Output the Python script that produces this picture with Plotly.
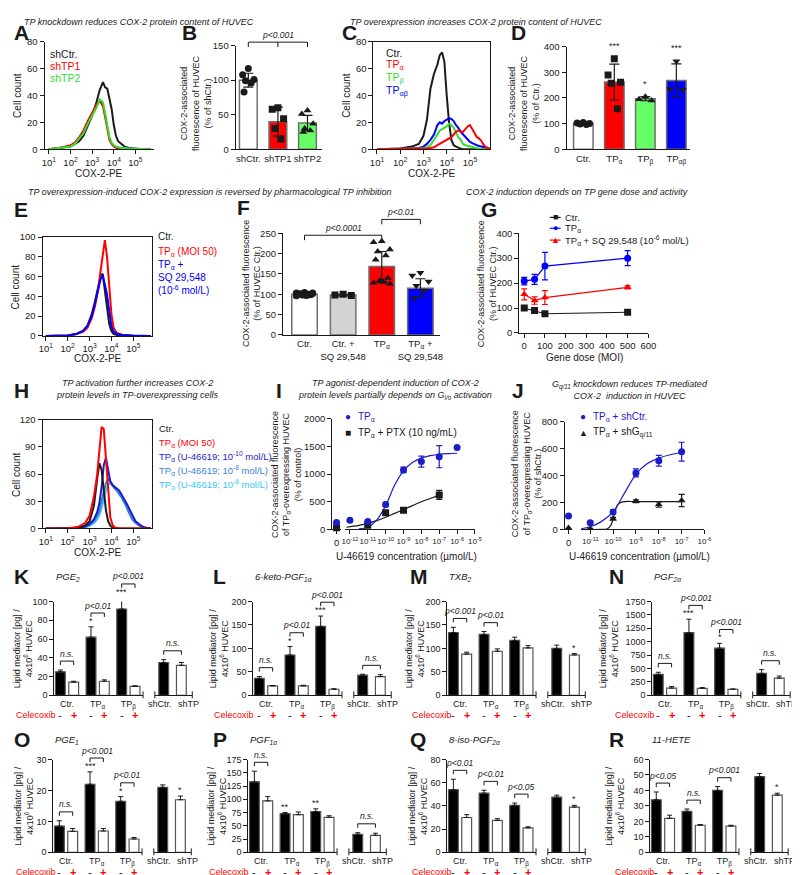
import plotly.graph_objects as go

W, H = 800, 875
FONT = "Liberation Sans"
INK = "#1a1a1a"
RED = "#ff0000"
GREEN = "#33dd33"
LGREEN = "#66ff66"
BLUE = "#0000ff"
NAVY = "#1c1cc8"
STEEL = "#3a7fe0"
CYAN = "#35c8ff"
LGRAY = "#d3d3d3"
EDGE = "#707070"

DECADES = ["10<sup>%d</sup>" % k for k in range(1, 6)]

# ---------------- A: knockdown histograms (log10 COX-2-PE, cell count)
a_log = [1.0, 1.5, 2.0, 2.2, 2.4, 2.6, 2.8, 3.0, 3.2, 3.35, 3.5, 3.6, 3.7, 3.8, 3.9, 4.0, 4.1, 4.2, 4.35, 4.5, 4.7, 5.0, 5.3, 5.7]
a_shctr = [0, 1, 2, 4, 6, 10, 17, 25, 35, 44, 50, 46, 45, 38, 30, 18, 10, 6, 4, 2, 1, 0.5, 0, 0]
a_shtp1 = [0, 1, 3, 5, 9, 14, 21, 27, 33, 36, 32, 24, 14, 7, 4, 2, 1, 0.5, 0, 0, 0, 0, 0, 0]
a_shtp2 = [0, 1, 2, 4, 8, 12, 19, 25, 31, 37, 35, 27, 17, 9, 5, 3, 2, 1.5, 1, 1, 0.5, 0.4, 0.2, 0]

# ---------------- B
b_groups = ["shCtr.", "shTP1", "shTP2"]
b_mean = [100, 40, 38]
b_sd = [10, 21, 11]
b_points = [[117, 108, 101, 99, 96, 83], [60, 58, 44, 30, 15], [56, 51, 37, 30, 27, 25]]
b_bracket = 155

# ---------------- C: overexpression histograms
c_log = [1.0, 2.0, 2.5, 2.8, 3.0, 3.15, 3.3, 3.45, 3.6, 3.7, 3.8, 3.9, 4.0, 4.1, 4.2, 4.3,
         4.4, 4.5, 4.6, 4.7, 4.8, 4.9, 5.0, 5.1, 5.2, 5.3, 5.4, 5.5, 5.6, 5.7, 5.85]
c_ctr = [0, 0.5, 2, 4, 10, 22, 45, 56, 63, 70, 72, 65, 40, 20, 7, 3,
         2, 1, 0.5, 0, 0, 0, 0, 0, 0, 0, 0, 0, 0, 0, 0]
c_tpab = [0, 0, 0.5, 1, 2, 4, 7, 11, 18, 20, 19, 21, 22, 23, 22.5, 21,
          18, 16, 13, 11, 9, 7, 5.5, 4.5, 3.5, 3, 2.5, 2, 1.5, 1, 0.5]
c_tpb = [0, 0, 0, 0.5, 1, 1.5, 3, 7, 12, 14, 15, 16, 17, 19, 18, 16,
         12, 9, 7, 4, 3, 2.5, 2, 1.5, 1, 0.7, 0.5, 0.3, 0, 0, 0]
c_tpa = [0, 0, 0, 0, 0.5, 0.5, 1, 1.5, 3, 4, 5, 6, 7, 8, 9, 11,
         13, 14, 13, 13, 15, 17, 18, 15, 11, 9, 8, 6, 3, 1.5, 0.5]

# ---------------- D
d_groups = ["Ctr.", "TP<sub>α</sub>", "TP<sub>β</sub>", "TP<sub>αβ</sub>"]
d_mean = [100, 262, 197, 268]
d_sd = [4, 70, 8, 65]
d_points = [[104, 102, 100, 98, 97], [353, 289, 261, 257, 158], [205, 195, 190], [343, 234, 232]]
d_stars = ["", "***", "*", "***"]

# ---------------- E
e_log = [1.0, 2.0, 2.4, 2.7, 2.9, 3.1, 3.25, 3.4, 3.5, 3.6, 3.7, 3.8, 3.9, 4.0, 4.1, 4.25, 4.5, 5.0, 5.8]
e_ctr = [0, 0.5, 2, 5, 10, 22, 35, 50, 60, 63, 45, 25, 12, 5, 2, 1, 0.5, 0, 0]
e_tpa = [0, 0.5, 2, 4, 8, 18, 30, 48, 65, 82, 97, 80, 50, 22, 8, 3, 1, 0, 0]
e_tpa_sq = [0, 0.5, 2, 5, 10, 20, 33, 48, 57, 62, 52, 42, 25, 10, 4, 2, 1, 0.3, 0]

# ---------------- F
f_groups = ["Ctr.", "Ctr. +<br>SQ 29,548", "TP<sub>α</sub>", "TP<sub>α</sub> +<br>SQ 29,548"]
f_mean = [100, 98, 168, 115]
f_sd = [3, 2, 37, 23]
f_points = [[104, 103, 102, 101, 100, 100, 99, 98, 97, 96, 103, 99], [100, 98, 97],
            [230, 228, 210, 205, 195, 185, 140, 133, 130, 128, 126, 131], [153, 146, 131, 121, 109, 90]]
f_brackets = [("p&lt;0.0001", 0, 2, 245), ("p&lt;0.01", 2, 3, 284)]

# ---------------- G
g_moi = [0, 50, 100, 500]
g_ctr = [100, 90, 77, 83]
g_ctr_sd = [4, 3, 3, 3]
g_tpa = [208, 215, 268, 300]
g_tpa_sd = [15, 20, 55, 30]
g_tpa_sq = [155, 130, 142, 183]
g_tpa_sq_sd = [22, 15, 28, 6]

# ---------------- H
h_log = [1.0, 2.0, 2.5, 2.8, 3.0, 3.2, 3.35, 3.45, 3.55, 3.65, 3.75, 3.85, 3.95, 4.05,
         4.15, 4.25, 4.35, 4.45, 4.55, 4.65, 4.75, 4.85, 4.95, 5.1, 5.3, 5.5, 5.8]
h_ctr = [0, 0, 1, 3, 8, 25, 55, 72, 65, 45, 20, 8, 3, 1, 0.5, 0, 0, 0, 0, 0, 0, 0, 0, 0, 0, 0, 0]
h_tpa = [0, 0, 2, 6, 14, 35, 60, 85, 112, 110, 80, 40, 12, 4, 1, 0.5, 0, 0, 0, 0, 0, 0, 0, 0, 0, 0, 0]
h_u10 = [0, 0, 0.5, 2, 5, 10, 18, 28, 45, 70, 78, 65, 52, 48, 46, 45, 42, 38, 34, 30, 25, 20, 15, 8, 4, 1, 0]
h_u8 = [0, 0, 0.5, 2, 4, 8, 14, 20, 30, 40, 50, 55, 52, 48, 44, 42, 38, 35, 30, 26, 20, 15, 10, 6, 3, 1, 0]
h_u6 = [0, 0, 0.5, 1, 3, 6, 10, 15, 22, 32, 42, 48, 50, 47, 45, 43, 40, 37, 33, 28, 22, 17, 12, 7, 3, 1, 0]

# ---------------- I (log10 U-46619 concentration)
i_conc = [-12, -11, -10, -9, -8, -7, -6]
i_tpa_zero = 125
i_tpa = [166, 143, 452, 1077, 1227, 1316, 1480]
i_tpa_sd = [0, 0, 40, 50, 100, 200, 0]
i_ptx_zero = 30
i_ptx_conc = [-11, -10, -9, -7]
i_ptx = [75, 300, 345, 625]
i_ptx_sd = [0, 0, 0, 80]
i_fit_tpa_x = [-11.5, -11, -10.5, -10, -9.5, -9, -8.5, -8, -7.5, -7, -6.5, -6]
i_fit_tpa_y = [10, 40, 170, 430, 800, 1060, 1210, 1290, 1335, 1360, 1372, 1378]
i_fit_ptx_x = [-12.2, -11.5, -11, -10.5, -10, -9.5, -9, -8.5, -8, -7.5, -7]
i_fit_ptx_y = [40, 75, 110, 160, 220, 290, 360, 430, 500, 560, 620]

# ---------------- J
j_conc = [-11, -10, -9, -8, -7]
j_shctr_zero = 100
j_shctr = [50, 130, 420, 510, 578]
j_shctr_sd = [10, 15, 30, 40, 70]
j_shgq_zero = 10
j_shgq = [3, 80, 210, 185, 215]
j_shgq_sd = [5, 10, 10, 20, 45]
j_fit_ctr_x = [-11.4, -11, -10.5, -10, -9.5, -9, -8.5, -8, -7.5, -7]
j_fit_ctr_y = [5, 20, 60, 130, 270, 410, 490, 530, 555, 570]
j_fit_gq_x = [-11.4, -10.5, -10.25, -10.1, -10.0, -9.9, -9.8, -9.6, -9, -8, -7]
j_fit_gq_y = [0, 0, 5, 30, 80, 140, 185, 205, 207, 207, 207]

# ---------------- K-R lipid mediators: Ctr-, Ctr+, TPa-, TPa+, TPb-, TPb+ ; shCtr, shTP
k_mean = [25, 14, 62, 15, 92, 9.5]
k_sd = [2, 1, 11, 1.5, 12, 0.7]
k_sh = [35, 32]
k_sh_sd = [3, 3]
l_mean = [36, 20, 86, 20, 147, 13]
l_sd = [4, 1, 18, 1.5, 22, 1]
l_sh = [43, 40]
l_sh_sd = [2, 4]
m_mean = [134, 88, 130, 94, 117, 101]
m_sd = [11, 4, 6, 5, 7, 5]
m_sh = [100, 86]
m_sh_sd = [7, 3]
n_mean = [390, 135, 1170, 130, 880, 110]
n_sd = [40, 30, 250, 15, 90, 10]
n_sh = [410, 320]
n_sh_sd = [70, 40]
o_mean = [8.5, 6.8, 22, 6.9, 16.5, 4.3]
o_sd = [1.7, 0.9, 4, 0.8, 1.5, 0.5]
o_sh = [21, 17]
o_sh_sd = [0.8, 1.2]
p_mean = [133, 97, 73, 71, 77, 66]
p_sd = [20, 8, 2, 5, 5, 3]
p_sh = [34, 32]
p_sh_sd = [3, 4]
q_mean = [54, 30, 51, 27.5, 40.5, 21]
q_sd = [9, 2.5, 2.5, 1.5, 2, 1]
q_sh = [47.5, 39]
q_sh_sd = [1.8, 1.5]
r_mean = [34, 22, 26.5, 17.5, 40, 17]
r_sd = [5, 2, 1.5, 0.5, 2.5, 0.5]
r_sh = [49, 37]
r_sh_sd = [2, 1.2]

fig = go.Figure()
annots = []
shapes = []
axis_no = [0]


def xp(p):
    return p / W


def yp(p):
    return 1 - p / H


def add_axes(left, right, top, bottom, xrange, yrange, xopt=None, yopt=None, tick_size=9.5):
    axis_no[0] += 1
    s = "" if axis_no[0] == 1 else str(axis_no[0])
    base = dict(showgrid=False, zeroline=False, showline=True, linecolor=INK, linewidth=1,
                ticks="", showticklabels=False, ticklen=4, tickcolor=INK, fixedrange=True,
                tickangle=0, tickfont=dict(family=FONT, size=tick_size, color=INK))
    xa = dict(base, domain=[xp(left), xp(right)], range=xrange, anchor="y" + s)
    ya = dict(base, domain=[yp(bottom), yp(top)], range=yrange, anchor="x" + s)
    xa.update(xopt or {})
    ya.update(yopt or {})
    fig.update_layout({"xaxis" + s: xa, "yaxis" + s: ya})
    return "x" + s, "y" + s


def label(x, y, text, size=10, color=INK, xanchor="center", yanchor="middle", angle=0, xref="paper",
          align="center"):
    annots.append(dict(x=xp(x) if xref == "paper" else x, y=yp(y), xref=xref, yref="paper",
                       text=text, showarrow=False, textangle=angle, xanchor=xanchor, yanchor=yanchor,
                       align=align, font=dict(family=FONT, size=size, color=color)))


def hline_px(x0, x1, y, color=INK, width=1):
    shapes.append(dict(type="line", xref="paper", yref="paper", x0=xp(x0), x1=xp(x1), y0=yp(y), y1=yp(y),
                       line=dict(color=color, width=width)))


def vline_px(x, y0, y1):
    shapes.append(dict(type="line", xref="paper", yref="paper", x0=xp(x), x1=xp(x), y0=yp(y0), y1=yp(y1),
                       line=dict(color=INK, width=1)))


def bracket(xref, x0, x1, lvl, text, leg=4, mid=None, size=8.5):
    path = "M%s,%s L%s,%s L%s,%s L%s,%s" % (x0, yp(lvl + leg), x0, yp(lvl), x1, yp(lvl), x1, yp(lvl + leg))
    if mid is not None:
        path += " M%s,%s L%s,%s" % (mid, yp(lvl), mid, yp(lvl + leg))
    shapes.append(dict(type="path", path=path, xref=xref, yref="paper", line=dict(color=INK, width=1)))
    label((x0 + x1) / 2, lvl - 0.5, "<i>%s</i>" % text, size=size, yanchor="bottom", xref=xref)


def spread(n, w):
    pattern = [0, -1, 1, -0.5, 0.5, -0.75, 0.75, -0.25, 0.25, -1, 1, 0]
    return [w * pattern[k % len(pattern)] for k in range(n)]


def hist(box, yr, yticks, xs, series, frame):
    left, right, top, bottom = box
    xa, ya = add_axes(left, right, top, bottom, [0.8 if not frame else 0.85, 5.85], yr,
                      dict(ticks="outside", showticklabels=True, tickvals=[1, 2, 3, 4, 5], ticktext=DECADES,
                           mirror=frame),
                      dict(ticks="outside", showticklabels=True, tickvals=yticks, mirror=frame))
    for ys, col in series:
        fig.add_trace(go.Scatter(x=xs, y=ys, mode="lines", line=dict(color=col, width=2),
                                 xaxis=xa, yaxis=ya))


def dot_bars(box, yr, yticks, groups, means, sds, points, colors, symbols, bw, xr):
    left, right, top, bottom = box
    xa, ya = add_axes(left, right, top, bottom, xr, yr,
                      dict(showticklabels=True, tickvals=list(range(len(groups))), ticktext=groups),
                      dict(ticks="outside", showticklabels=True, tickvals=yticks))
    fig.add_trace(go.Bar(x=list(range(len(groups))), y=means, width=bw,
                         marker=dict(color=colors, line=dict(color=EDGE, width=1.5)),
                         error_y=dict(type="data", array=sds, color=INK, thickness=1.2, width=5),
                         xaxis=xa, yaxis=ya))
    for i, pts in enumerate(points):
        fig.add_trace(go.Scatter(x=[i + o for o in spread(len(pts), bw * 0.32)], y=pts, mode="markers",
                                 marker=dict(symbol=symbols[i], color=INK, size=7),
                                 xaxis=xa, yaxis=ya))
    return xa, ya


# ================= row 1 =================
label(129, 8, "<i>TP knockdown reduces COX-2 protein content of HUVEC</i>", size=9)
label(471, 8, "<i>TP overexpression increases COX-2 protein content of HUVEC</i>", size=9)

# A
label(0, 19, "<b>A</b>", size=21, xanchor="left")
hist((33, 144, 28, 137), [0, 80], [0, 20, 40, 60, 80], a_log,
     [(a_shctr, INK), (a_shtp1, RED), (a_shtp2, GREEN)], False)
label(6, 82, "Cell count", angle=-90)
label(88, 162, "COX-2-PE")
label(37, 41, "shCtr.", size=10.5, xanchor="left")
label(37, 53, "shTP1", size=10.5, color=RED, xanchor="left")
label(37, 65, "shTP2", size=10.5, color=GREEN, xanchor="left")

# B
label(171, 19, "<b>B</b>", size=21, xanchor="left")
xb, yb = dot_bars((227, 315, 32, 137), [0, 150], [0, 50, 100, 150], b_groups, b_mean, b_sd, b_points,
                  ["white", RED, LGREEN], ["circle", "square", "triangle-up"], 0.6, [-0.43, 2.5])
label(187, 90, "COX-2-associated<br>fluorescence of HUVEC<br>(% of shCtr.)", size=9, angle=-90)
b_lvl = 137 - b_bracket / 150 * (137 - 32)
bracket(xb, 0, 2, b_lvl, "p&lt;0.001", leg=5, mid=1)

# C
label(333, 19, "<b>C</b>", size=21, xanchor="left")
hist((367, 485, 28, 137), [0, 80], [0, 20, 40, 60, 80], c_log,
     [(c_ctr, INK), (c_tpab, BLUE), (c_tpb, GREEN), (c_tpa, RED)], True)
label(340, 82, "Cell count", angle=-90)
label(426, 162, "COX-2-PE")
label(378, 39, "Ctr.", size=10.5, xanchor="left")
label(378, 52, "TP<sub>α</sub>", size=10.5, color=RED, xanchor="left")
label(378, 65, "TP<sub>β</sub>", size=10.5, color=GREEN, xanchor="left")
label(378, 78, "TP<sub>αβ</sub>", size=10.5, color=BLUE, xanchor="left")

# D
label(505, 19, "<b>D</b>", size=21, xanchor="left")
xd, yd = dot_bars((563, 688, 33, 137), [0, 400], [0, 100, 200, 300, 400], d_groups, d_mean, d_sd, d_points,
                  ["white", RED, LGREEN, BLUE], ["circle", "square", "triangle-up", "triangle-down"],
                  0.63, [-0.54, 3.43])
label(520, 90, "COX-2-associated<br>fluorescence of HUVEC<br>(% of Ctr.)", size=9, angle=-90)
for i, st in enumerate(d_stars):
    if st:
        top_val = max(d_mean[i] + d_sd[i], max(d_points[i]))
        label(i, 137 - top_val / 400 * 104 - 6, st, size=9, yanchor="bottom", xref=xd)

# ================= row 2 =================
label(201, 180, "<i>TP overexpression-induced COX-2 expression is reversed by pharmacological TP inhibition</i>", size=9)
label(574, 180, "<i>COX-2 induction depends on TP gene dose and activity</i>", size=9)

# E
label(0, 198, "<b>E</b>", size=21, xanchor="left")
hist((31, 142, 226, 326), [0, 100], [0, 20, 40, 60, 80, 100], e_log,
     [(e_ctr, INK), (e_tpa, RED), (e_tpa_sq, BLUE)], True)
label(4, 276, "Cell count", angle=-90)
label(87, 349, "COX-2-PE")
label(146, 225, "Ctr.", size=10, xanchor="left")
label(146, 241, "TP<sub>α</sub> (MOI 50)", size=10, color=RED, xanchor="left")
label(146, 267, "TP<sub>α</sub> +<br>SQ 29,548<br>(10<sup>-6</sup> mol/L)", size=10, color=BLUE, xanchor="left",
      align="left")

# F
label(226, 196, "<b>F</b>", size=21, xanchor="left")
xf, yf = dot_bars((275, 435, 222, 325), [0, 250], [0, 50, 100, 150, 200, 250], f_groups, f_mean, f_sd, f_points,
                  ["white", LGRAY, RED, BLUE], ["circle", "square", "triangle-up", "triangle-down"],
                  0.66, [-0.56, 3.52])
label(243, 273, "COX-2-associated fluorescence<br>(% of HUVEC Ctr.)", size=9, angle=-90)
for txt, i0, i1, lv in f_brackets:
    bracket(xf, i0, i1, 325 - lv / 250 * 103, txt, leg=5)

# G
label(474, 198, "<b>G</b>", size=21, xanchor="left")
xg, yg = add_axes(515, 646, 222, 323, [-24, 600], [0, 400],
                  dict(ticks="outside", showticklabels=True, tickvals=[0, 100, 200, 300, 400, 500, 600]),
                  dict(ticks="outside", showticklabels=True, tickvals=[0, 100, 200, 300, 400]))
for ys, sd, col, sym in ((g_ctr, g_ctr_sd, INK, "square"), (g_tpa_sq, g_tpa_sq_sd, RED, "triangle-up"),
                         (g_tpa, g_tpa_sd, BLUE, "circle")):
    fig.add_trace(go.Scatter(x=g_moi, y=ys, mode="lines+markers", line=dict(color=col, width=1.2),
                             marker=dict(symbol=sym, size=7, color=col),
                             error_y=dict(type="data", array=sd, color=col, thickness=1.2, width=3),
                             xaxis=xg, yaxis=yg))
label(482, 273, "COX-2-associated fluorescence<br>(% of HUVEC Ctr.)", size=9, angle=-90)
label(581, 348, "Gene dose (MOI)")
for yy, glyph, col, txt in ((206, "■", INK, "Ctr."), (217, "●", BLUE, "TP<sub>α</sub>"),
                            (229, "▲", RED, "TP<sub>α</sub> + SQ 29,548 (10<sup>-6</sup> mol/L)")):
    hline_px(546, 557, yy, col, 1.2)
    label(551.5, yy, glyph, size=9, color=col)
    label(559, yy, txt, size=9.5, xanchor="left")

# ================= row 3 =================
# H
label(0, 381, "<b>H</b>", size=21, xanchor="left")
label(127, 380, "<i>TP activation further increases COX-2<br>protein levels in TP-overexpressing cells</i>", size=9)
hist((31, 142, 411, 521), [0, 120], [0, 30, 60, 90, 120], h_log,
     [(h_u6, CYAN), (h_u8, STEEL), (h_u10, NAVY), (h_ctr, INK), (h_tpa, RED)], True)
label(4, 466, "Cell count", angle=-90)
label(87, 545, "COX-2-PE")
for yy, col, txt in ((420, INK, "Ctr."), (434, RED, "TP<sub>α</sub> (MOI 50)"),
                     (448, NAVY, "TP<sub>α</sub> (U-46619; 10<sup>-10</sup> mol/L)"),
                     (462, STEEL, "TP<sub>α</sub> (U-46619; 10<sup>-8</sup> mol/L)"),
                     (476, CYAN, "TP<sub>α</sub> (U-46619; 10<sup>-6</sup> mol/L)")):
    label(147, yy, txt, size=9.5, color=col, xanchor="left")

# I
label(266, 381, "<b>I</b>", size=21, xanchor="left")
label(389, 380, "<i>TP agonist-dependent induction of COX-2<br>protein levels partially depends on G<sub>i/o</sub> activation</i>", size=9)
xi0, yi0 = add_axes(325, 334, 410, 522, [-1, 1], [0, 2000],
                    dict(ticks="outside", showticklabels=True, tickvals=[0], ticktext=["0"]),
                    dict(ticks="outside", showticklabels=True, tickvals=[0, 500, 1000, 1500, 2000]))
xi, yi = add_axes(338, 470, 410, 522, [-12.28, -5], [0, 2000],
                  dict(ticks="outside", showticklabels=True, tickvals=list(range(-12, -4)),
                       ticktext=["10<sup>%d</sup>" % k for k in range(-12, -4)], tickfont=dict(size=8)),
                  dict(showline=False))
fig.add_trace(go.Scatter(x=i_fit_ptx_x, y=i_fit_ptx_y, mode="lines", line=dict(color=INK, width=1.2, shape="spline"),
                         xaxis=xi, yaxis=yi))
fig.add_trace(go.Scatter(x=i_fit_tpa_x, y=i_fit_tpa_y, mode="lines", line=dict(color=NAVY, width=1.2, shape="spline"),
                         xaxis=xi, yaxis=yi))
fig.add_trace(go.Scatter(x=i_ptx_conc, y=i_ptx, mode="markers", marker=dict(symbol="square", size=7, color=INK),
                         error_y=dict(type="data", array=i_ptx_sd, color=INK, thickness=1.2, width=3),
                         xaxis=xi, yaxis=yi))
fig.add_trace(go.Scatter(x=i_conc, y=i_tpa, mode="markers", marker=dict(symbol="circle", size=7, color=NAVY),
                         error_y=dict(type="data", array=i_tpa_sd, color=NAVY, thickness=1.2, width=3),
                         xaxis=xi, yaxis=yi))
fig.add_trace(go.Scatter(x=[0, 0], y=[i_ptx_zero, i_tpa_zero], mode="markers",
                         marker=dict(symbol=["square", "circle"], size=7, color=[INK, NAVY]),
                         xaxis=xi0, yaxis=yi0, cliponaxis=False))
label(278, 466, "COX-2-associated fluorescence<br>of TP<sub>α</sub>-overexpressing HUVEC<br>(% of control)",
      size=9, angle=-90)
label(400, 549, "U-46619 concentration (µmol/L)")
label(341, 408, "●", size=10, color=NAVY)
label(349, 408, "TP<sub>α</sub>", size=10, color=NAVY, xanchor="left")
label(341, 424, "■", size=10, color=INK)
label(349, 424, "TP<sub>α</sub> + PTX (10 ng/mL)", size=10, xanchor="left")

# J
label(506, 381, "<b>J</b>", size=21, xanchor="left")
label(627, 381, "<i>G<sub>q/11</sub> knockdown reduces TP-mediated<br>COX-2  induction in HUVEC</i>", size=9)
xj0, yj0 = add_axes(561, 569, 413, 522, [-1, 1], [0, 800],
                    dict(ticks="outside", showticklabels=True, tickvals=[0], ticktext=["0"]),
                    dict(ticks="outside", showticklabels=True, tickvals=[0, 200, 400, 600, 800]))
xj, yj = add_axes(578, 703, 413, 522, [-11.39, -6], [0, 800],
                  dict(ticks="outside", showticklabels=True, tickvals=list(range(-11, -5)),
                       ticktext=["10<sup>%d</sup>" % k for k in range(-11, -5)], tickfont=dict(size=8)),
                  dict(showline=False))
fig.add_trace(go.Scatter(x=j_fit_gq_x, y=j_fit_gq_y, mode="lines", line=dict(color=INK, width=1.2, shape="spline"),
                         xaxis=xj, yaxis=yj))
fig.add_trace(go.Scatter(x=j_fit_ctr_x, y=j_fit_ctr_y, mode="lines", line=dict(color=NAVY, width=1.2, shape="spline"),
                         xaxis=xj, yaxis=yj))
fig.add_trace(go.Scatter(x=j_conc, y=j_shgq, mode="markers", marker=dict(symbol="triangle-up", size=7, color=INK),
                         error_y=dict(type="data", array=j_shgq_sd, color=INK, thickness=1.2, width=3),
                         xaxis=xj, yaxis=yj))
fig.add_trace(go.Scatter(x=j_conc, y=j_shctr, mode="markers", marker=dict(symbol="circle", size=7, color=NAVY),
                         error_y=dict(type="data", array=j_shctr_sd, color=NAVY, thickness=1.2, width=3),
                         xaxis=xj, yaxis=yj))
fig.add_trace(go.Scatter(x=[0, 0], y=[j_shgq_zero, j_shctr_zero], mode="markers",
                         marker=dict(symbol=["triangle-up", "circle"], size=7, color=[INK, NAVY]),
                         xaxis=xj0, yaxis=yj0, cliponaxis=False))
label(522, 466, "COX-2-associated fluorescence<br>of TP<sub>α</sub>-overexpressing HUVEC<br>(% of shCtr.)",
      size=9, angle=-90)
label(637, 549, "U-46619 concentration (µmol/L)")
label(580, 408, "●", size=10, color=NAVY)
label(588, 408, "TP<sub>α</sub> + shCtr.", size=10, color=NAVY, xanchor="left")
label(580, 424, "▲", size=9, color=INK)
label(588, 424, "TP<sub>α</sub> + shG<sub>q/11</sub>", size=10, xanchor="left")

# ================= rows 4-5: lipid mediators =================
MAIN_POS = [0, 1, 2.3, 3.3, 4.6, 5.6]
SH_POS = [0, 1.33]
ROWS = {4: (595, 690, 570, 710), 5: (755, 849, 735, 869)}


def lipid_panel(letter, name, ax, row, means, sds, sh, sh_sd, ymax, dtick, sig, stars, sh_sig, sh_star,
                title_x, letter_x, cele_x):
    top, bottom, head_y, cele_y = ROWS[row]
    xa, ya = add_axes(ax, ax + 90, top, bottom, [-0.45, 6.2], [0, ymax],
                      dict(showticklabels=True, tickvals=[0.5, 2.8, 5.1],
                           ticktext=["Ctr.", "TP<sub>α</sub>", "TP<sub>β</sub>"]),
                      dict(ticks="outside", showticklabels=True, tickvals=list(range(0, ymax + 1, dtick))),
                      tick_size=9)
    xs, ys = add_axes(ax + 102, ax + 140, top, bottom, [-0.67, 2.15], [0, ymax],
                      None, dict(visible=False), tick_size=9)
    fig.add_trace(go.Bar(x=MAIN_POS, y=means, width=0.74, marker=dict(color=["black", "white"] * 3,
                                                                     line=dict(color="#555", width=1.2)),
                         error_y=dict(type="data", array=sds, arrayminus=[0] * 6, symmetric=False,
                                      color=INK, thickness=1, width=2.5),
                         xaxis=xa, yaxis=ya))
    fig.add_trace(go.Bar(x=SH_POS, y=sh, width=0.74, marker=dict(color=["black", "white"],
                                                                line=dict(color="#555", width=1.2)),
                         error_y=dict(type="data", array=sh_sd, arrayminus=[0, 0], symmetric=False,
                                      color=INK, thickness=1, width=2.5),
                         xaxis=xs, yaxis=ys))
    vline_px(ax + 90, bottom - 4, bottom + 3)
    vline_px(ax + 102, bottom - 4, bottom + 3)
    vline_px(ax + 140, bottom - 4, bottom + 3)
    label(ax + 107, bottom + 9, "shCtr.", size=9)
    label(min(ax + 136, 786), bottom + 9, "shTP", size=9)

    def ypix(v):
        return bottom - v / ymax * (bottom - top)

    for k in range(3):
        i, j = 2 * k, 2 * k + 1
        tops = [means[i] + sds[i], means[j] + sds[j]]
        if stars[k]:
            label(MAIN_POS[i], ypix(tops[0]) + 1, stars[k], size=9, yanchor="bottom", xref=xa)
        if sig[k]:
            lvl = ypix(max(tops)) - (14 if stars[k] else 9)
            bracket(xa, MAIN_POS[i], MAIN_POS[j], lvl, sig[k])
    if sh_sig:
        lvl = ypix(max(sh[0] + sh_sd[0], sh[1] + sh_sd[1])) - 9
        bracket(xs, SH_POS[0], SH_POS[1], lvl, sh_sig)
    if sh_star:
        label(SH_POS[1], ypix(sh[1] + sh_sd[1]) + 1, sh_star, size=9, yanchor="bottom", xref=xs)

    label(letter_x, head_y, "<b>%s</b>" % letter, size=21, xanchor="left")
    label(ax, head_y, "<i>%s</i>" % name, size=9.5, xanchor="left")
    label(title_x, (top + bottom) / 2, "Lipid mediator [pg] /<br>4x10<sup>6</sup> HUVEC", size=9, angle=-90)
    label(cele_x, cele_y, "Celecoxib", size=9, color=RED, xanchor="left")
    for k, pos in enumerate(MAIN_POS):
        if k % 2:
            label(pos, cele_y, "<b>+</b>", size=11, color=RED, xref=xa)
        else:
            label(pos, cele_y, "-", size=11, xref=xa)


lipid_panel("K", "PGE<sub>2</sub>", 43, 4, k_mean, k_sd, k_sh, k_sh_sd, 100, 20,
            ["n.s.", "p&lt;0.01", "p&lt;0.001"], ["", "*", "***"], "n.s.", "", 12, 0, 2)
lipid_panel("L", "6-keto-PGF<sub>1α</sub>", 245, 4, l_mean, l_sd, l_sh, l_sh_sd, 200, 50,
            ["n.s.", "p&lt;0.01", "p&lt;0.001"], ["", "*", "***"], "n.s.", "", 211, 202, 203)
lipid_panel("M", "TXB<sub>2</sub>", 442, 4, m_mean, m_sd, m_sh, m_sh_sd, 200, 50,
            ["p&lt;0.001", "p&lt;0.01", ""], ["", "", ""], "", "*", 410, 402, 404)
lipid_panel("N", "PGF<sub>2α</sub>", 650, 4, n_mean, n_sd, n_sh, n_sh_sd, 1750, 250,
            ["n.s.", "p&lt;0.001", "p&lt;0.001"], ["", "***", "*"], "n.s.", "", 607, 604, 610)
lipid_panel("O", "PGE<sub>1</sub>", 42, 5, o_mean, o_sd, o_sh, o_sh_sd, 30, 10,
            ["n.s.", "p&lt;0.001", "p&lt;0.01"], ["", "***", "*"], "", "*", 12, 0, 2)
lipid_panel("P", "PGF<sub>1α</sub>", 240, 5, p_mean, p_sd, p_sh, p_sh_sd, 175, 25,
            ["n.s.", "", ""], ["", "**", "**"], "n.s.", "", 208, 202, 198)
lipid_panel("Q", "8-iso-PGF<sub>2α</sub>", 442, 5, q_mean, q_sd, q_sh, q_sh_sd, 80, 20,
            ["p&lt;0.01", "p&lt;0.01", "p&lt;0.05"], ["", "", ""], "", "*", 412, 402, 404)
lipid_panel("R", "11-HETE", 648, 5, r_mean, r_sd, r_sh, r_sh_sd, 60, 10,
            ["p&lt;0.05", "n.s.", "p&lt;0.001"], ["", "", ""], "", "*", 612, 604, 610)

fig.update_layout(width=W, height=H, margin=dict(l=0, r=0, t=0, b=0),
                  paper_bgcolor="white", plot_bgcolor="white", showlegend=False,
                  font=dict(family=FONT, size=10, color=INK),
                  annotations=annots, shapes=shapes)
fig.write_html("out.html")
